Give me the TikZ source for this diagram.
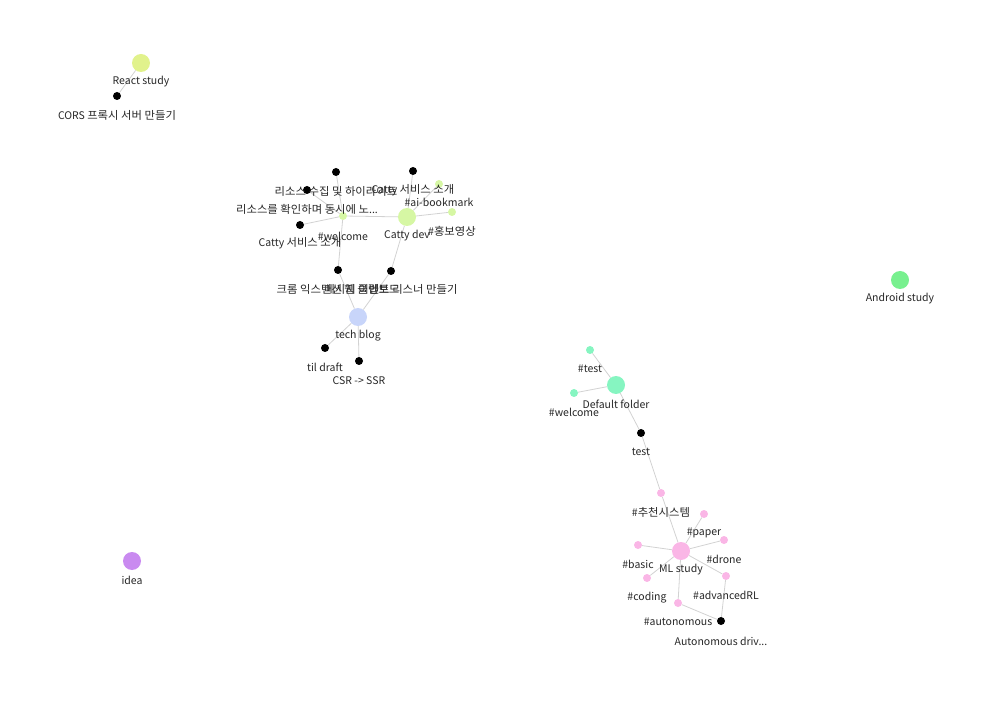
\documentclass[tikz,border=0pt]{standalone}
\usepackage{fontspec}
\setmainfont{Noto Sans CJK KR}
\newfontfamily\kr[Scale=1.04,FakeStretch=1.04]{Noto Sans CJK KR}
\usetikzlibrary{calc,backgrounds}
\definecolor{cReact}{HTML}{E1F28C}
\definecolor{cCatty}{HTML}{D6F7A4}
\definecolor{cTech}{HTML}{C8D5FA}
\definecolor{cAndroid}{HTML}{78F08F}
\definecolor{cDefault}{HTML}{86F5C1}
\definecolor{cML}{HTML}{FAB6E6}
\definecolor{cIdea}{HTML}{C98AF0}
\definecolor{cEdge}{HTML}{D2D2D2}
\tikzset{
  big/.style={circle,inner sep=0pt,minimum size=18pt,draw=none},
  small/.style={circle,inner sep=0pt,minimum size=8pt,draw=none},
  blk/.style={small,fill=black},
  lbl/.style={inner sep=0pt,font=\fontsize{10.5}{12}\selectfont,text=black!85},
  edge/.style={draw=cEdge,line width=0.8pt}
}
\begin{document}
\begin{tikzpicture}[x=1pt,y=-1pt]
\useasboundingbox (0,0) rectangle (986,719);
% big nodes
\node[big,fill=cReact] (react) at (141,63) {};
\node[big,fill=cCatty] (catty) at (407,217) {};
\node[big,fill=cTech] (tech) at (358,317) {};
\node[big,fill=cAndroid] (android) at (900,280) {};
\node[big,fill=cDefault] (default) at (616,385) {};
\node[big,fill=cML] (ml) at (681,551) {};
\node[big,fill=cIdea] (idea) at (132,561) {};
% black nodes
\node[blk] (cors) at (117,96) {};
\node[blk] (b1) at (336,172) {};
\node[blk] (b2) at (413,171) {};
\node[blk] (b3) at (307,190) {};
\node[blk] (b4) at (300,225) {};
\node[blk] (b5) at (338,270) {};
\node[blk] (b6) at (391,271) {};
\node[blk] (til) at (325,348) {};
\node[blk] (csr) at (359,361) {};
\node[blk] (test) at (641,433) {};
\node[blk] (auto) at (721,621) {};
% tag nodes
\node[small,fill=cCatty] (wel1) at (343,216) {};
\node[small,fill=cCatty] (aib) at (439,184) {};
\node[small,fill=cCatty] (promo) at (452,212) {};
\node[small,fill=cDefault] (ttest) at (590,350) {};
\node[small,fill=cDefault] (twel) at (574,393) {};
\node[small,fill=cML] (rec) at (661,493) {};
\node[small,fill=cML] (paper) at (704,514) {};
\node[small,fill=cML] (drone) at (724,540) {};
\node[small,fill=cML] (basic) at (638,545) {};
\node[small,fill=cML] (coding) at (647,578) {};
\node[small,fill=cML] (adv) at (726,576) {};
\node[small,fill=cML] (autot) at (678,603) {};
% edges
\begin{pgfonlayer}{background}
\path[edge] (react) -- (cors);
\path[edge] (catty) -- (wel1);
\path[edge] (catty) -- (b2);
\path[edge] (catty) -- (aib);
\path[edge] (catty) -- (promo);
\path[edge] (catty) -- (b6);
\path[edge] (wel1) -- (b1);
\path[edge] (wel1) -- (b3);
\path[edge] (wel1) -- (b4);
\path[edge] (wel1) -- (b5);
\path[edge] (b5) -- (tech);
\path[edge] (b6) -- (tech);
\path[edge] (tech) -- (til);
\path[edge] (tech) -- (csr);
\path[edge] (default) -- (ttest);
\path[edge] (default) -- (twel);
\path[edge] (default) -- (test);
\path[edge] (test) -- (rec);
\path[edge] (rec) -- (ml);
\path[edge] (ml) -- (paper);
\path[edge] (ml) -- (drone);
\path[edge] (ml) -- (basic);
\path[edge] (ml) -- (coding);
\path[edge] (ml) -- (adv);
\path[edge] (ml) -- (autot);
\path[edge] (autot) -- (auto);
\path[edge] (adv) -- (auto);
\end{pgfonlayer}
% labels
\node[lbl] (Lreact) at ($(react)+(0,19)$) {React study};
\node[lbl] (Lcatty) at ($(catty)+(0,19)$) {Catty dev};
\node[lbl] (Ltech) at ($(tech)+(0,19)$) {tech blog};
\node[lbl] (Landroid) at ($(android)+(0,19)$) {Android study};
\node[lbl] (Ldefault) at ($(default)+(0,19)$) {Default folder};
\node[lbl] (Lml) at ($(ml)+(0,19)$) {ML study};
\node[lbl] (Lidea) at ($(idea)+(0,19)$) {idea};
\node[lbl] (Lcors) at ($(cors)+(0,19)$) {CORS {\kr 프록시 서버 만들기}};
\node[lbl] (Lb1) at ($(b1)+(0,19)$) {\kr 리소스 수집 및 하이라이트};
\node[lbl] (Lb2) at ($(b2)+(0,19)$) {Catty {\kr 서비스 소개}};
\node[lbl] (Lb3) at ($(b3)+(0,19)$) {{\kr 리소스를 확인하며 동시에 노}...};
\node[lbl] (Lb4) at ($(b4)+(0,18)$) {Catty {\kr 서비스 소개}};
\node[lbl] (Lb5) at ($(b5)+(0,19)$) {\kr 크롬 익스텐션 웹 클립보드};
\node[lbl] (Lb6) at ($(b6)+(0,18)$) {\kr 메시지 이벤트 리스너 만들기};
\node[lbl] (Ltil) at ($(til)+(0,19)$) {til draft};
\node[lbl] (Lcsr) at ($(csr)+(0,20)$) {CSR -> SSR};
\node[lbl] (Ltest) at ($(test)+(0,19)$) {test};
\node[lbl] (Lauto) at ($(auto)+(0,20)$) {Autonomous driv...};
\node[lbl] (Lwel1) at ($(wel1)+(0,20)$) {\#welcome};
\node[lbl] (Laib) at ($(aib)+(0,18)$) {\#ai-bookmark};
\node[lbl] (Lpromo) at ($(promo)+(0,19)$) {\#{\kr 홍보영상}};
\node[lbl] (Lttest) at ($(ttest)+(0,19)$) {\#test};
\node[lbl] (Ltwel) at ($(twel)+(0,19)$) {\#welcome};
\node[lbl] (Lrec) at ($(rec)+(0,19)$) {\#{\kr 추천시스템}};
\node[lbl] (Lpaper) at ($(paper)+(0,19)$) {\#paper};
\node[lbl] (Ldrone) at ($(drone)+(0,19)$) {\#drone};
\node[lbl] (Lbasic) at ($(basic)+(0,19)$) {\#basic};
\node[lbl] (Lcoding) at ($(coding)+(0,20)$) {\#coding};
\node[lbl] (Ladv) at ($(adv)+(0,19)$) {\#advancedRL};
\node[lbl] (Lautot) at ($(autot)+(0,19)$) {\#autonomous};
\end{tikzpicture}
\end{document}
